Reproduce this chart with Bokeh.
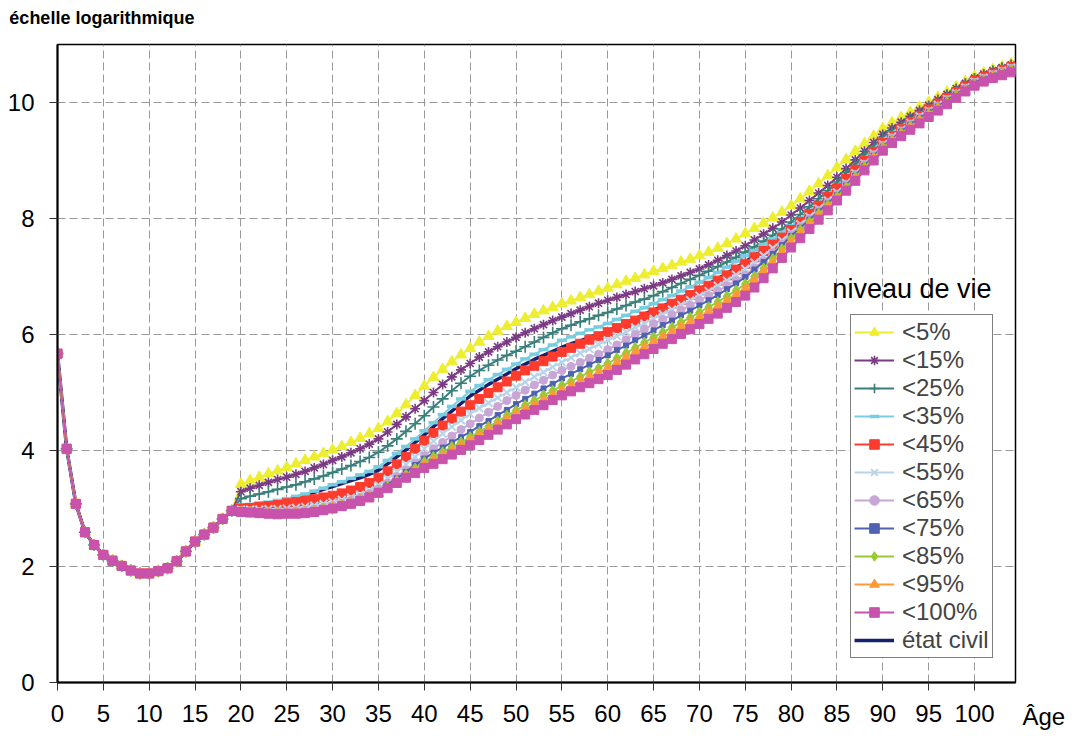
from bokeh.plotting import figure
from bokeh.models import Range1d, FixedTicker, Legend, LegendItem, Label, ColumnDataSource
from bokeh.embed import file_html
from bokeh.resources import INLINE

ages = list(range(0, 105))

# common values, ages 0-19
common_0_19 = [5.67, 4.03, 3.08, 2.59, 2.37, 2.20, 2.10, 2.01, 1.93, 1.88,
               1.88, 1.92, 1.97, 2.09, 2.26, 2.43, 2.55, 2.67, 2.82, 2.96]

# ages 20-104 per series
v_lt5 = [3.42, 3.48, 3.54, 3.60, 3.65, 3.71, 3.77, 3.83, 3.89, 3.95, 4.01,
         4.07, 4.14, 4.21, 4.29, 4.38, 4.50, 4.64, 4.79, 4.95, 5.11,
         5.26, 5.40, 5.53, 5.65, 5.76, 5.87, 5.97, 6.06, 6.14, 6.21,
         6.28, 6.35, 6.41, 6.47, 6.53, 6.58, 6.64, 6.69, 6.75, 6.80,
         6.86, 6.92, 6.97, 7.03, 7.09, 7.14, 7.19, 7.25, 7.30, 7.36,
         7.42, 7.49, 7.57, 7.65, 7.74, 7.83, 7.92, 8.01, 8.11, 8.22,
         8.34, 8.47, 8.60, 8.74, 8.88, 9.02, 9.16, 9.29, 9.42, 9.55,
         9.65, 9.74, 9.83, 9.92, 10.00, 10.09, 10.18, 10.27, 10.36, 10.45,
         10.51, 10.57, 10.62, 10.67]
v_lt15 = [3.29, 3.35, 3.40, 3.45, 3.50, 3.54, 3.59, 3.64, 3.70, 3.76, 3.83,
          3.89, 3.96, 4.03, 4.11, 4.20, 4.32, 4.45, 4.58, 4.72, 4.86,
          5.00, 5.14, 5.27, 5.39, 5.50, 5.61, 5.70, 5.79, 5.87, 5.95,
          6.03, 6.10, 6.17, 6.24, 6.30, 6.36, 6.42, 6.48, 6.54, 6.59,
          6.64, 6.69, 6.74, 6.79, 6.84, 6.89, 6.95, 7.01, 7.07, 7.13,
          7.20, 7.28, 7.36, 7.44, 7.53, 7.63, 7.73, 7.83, 7.94, 8.06,
          8.18, 8.31, 8.44, 8.57, 8.71, 8.86, 9.01, 9.16, 9.31, 9.45,
          9.56, 9.66, 9.76, 9.86, 9.95, 10.05, 10.14, 10.24, 10.33, 10.42,
          10.49, 10.55, 10.60, 10.65]
v_lt25 = [3.17, 3.21, 3.25, 3.29, 3.33, 3.37, 3.41, 3.46, 3.51, 3.56, 3.62,
          3.68, 3.74, 3.81, 3.88, 3.97, 4.08, 4.20, 4.33, 4.46, 4.60,
          4.75, 4.89, 5.03, 5.16, 5.28, 5.38, 5.47, 5.56, 5.64, 5.71,
          5.79, 5.87, 5.95, 6.03, 6.10, 6.16, 6.22, 6.27, 6.33, 6.38,
          6.44, 6.50, 6.56, 6.61, 6.67, 6.74, 6.81, 6.88, 6.95, 7.02,
          7.09, 7.17, 7.25, 7.33, 7.42, 7.51, 7.61, 7.71, 7.82, 7.94,
          8.07, 8.20, 8.34, 8.48, 8.63, 8.79, 8.94, 9.10, 9.25, 9.40,
          9.51, 9.62, 9.72, 9.82, 9.92, 10.02, 10.12, 10.21, 10.31, 10.40,
          10.47, 10.53, 10.59, 10.64]
v_lt35 = [3.06, 3.07, 3.09, 3.11, 3.14, 3.17, 3.21, 3.25, 3.30, 3.35, 3.41,
          3.46, 3.52, 3.58, 3.64, 3.72, 3.83, 3.95, 4.07, 4.20, 4.34,
          4.48, 4.62, 4.76, 4.89, 5.02, 5.12, 5.22, 5.31, 5.40, 5.49,
          5.58, 5.66, 5.74, 5.82, 5.90, 5.96, 6.02, 6.08, 6.13, 6.19,
          6.26, 6.33, 6.40, 6.46, 6.53, 6.60, 6.67, 6.75, 6.82, 6.90,
          6.98, 7.07, 7.16, 7.26, 7.36, 7.45, 7.55, 7.65, 7.76, 7.87,
          8.00, 8.13, 8.27, 8.41, 8.55, 8.71, 8.87, 9.04, 9.20, 9.36,
          9.48, 9.59, 9.70, 9.80, 9.90, 10.00, 10.10, 10.19, 10.29, 10.38,
          10.45, 10.51, 10.57, 10.62]
v_lt45 = [3.00, 3.01, 3.03, 3.04, 3.06, 3.09, 3.11, 3.13, 3.16, 3.19, 3.22,
          3.26, 3.31, 3.37, 3.44, 3.53, 3.64, 3.76, 3.89, 4.03, 4.17,
          4.30, 4.43, 4.55, 4.67, 4.78, 4.89, 4.99, 5.09, 5.19, 5.29,
          5.38, 5.46, 5.54, 5.62, 5.70, 5.77, 5.84, 5.91, 5.97, 6.04,
          6.11, 6.18, 6.24, 6.31, 6.38, 6.45, 6.53, 6.60, 6.68, 6.76,
          6.84, 6.93, 7.02, 7.12, 7.22, 7.33, 7.44, 7.55, 7.67, 7.80,
          7.94, 8.08, 8.22, 8.37, 8.52, 8.68, 8.84, 8.99, 9.15, 9.30,
          9.42, 9.54, 9.66, 9.77, 9.88, 9.98, 10.08, 10.18, 10.28, 10.37,
          10.44, 10.50, 10.56, 10.61]
v_lt55 = [2.98, 2.98, 2.98, 2.99, 2.99, 3.00, 3.01, 3.03, 3.05, 3.08, 3.11,
          3.15, 3.19, 3.24, 3.31, 3.40, 3.51, 3.63, 3.76, 3.89, 4.03,
          4.16, 4.29, 4.41, 4.52, 4.63, 4.73, 4.82, 4.91, 5.00, 5.09,
          5.18, 5.27, 5.35, 5.44, 5.52, 5.60, 5.68, 5.75, 5.83, 5.90,
          5.97, 6.04, 6.12, 6.19, 6.27, 6.35, 6.43, 6.51, 6.59, 6.67,
          6.75, 6.84, 6.93, 7.03, 7.13, 7.24, 7.36, 7.49, 7.62, 7.76,
          7.90, 8.03, 8.17, 8.31, 8.45, 8.61, 8.78, 8.95, 9.12, 9.28,
          9.41, 9.53, 9.65, 9.76, 9.86, 9.96, 10.06, 10.16, 10.26, 10.36,
          10.43, 10.49, 10.55, 10.60]
v_lt65 = [2.97, 2.96, 2.95, 2.95, 2.95, 2.95, 2.96, 2.97, 2.99, 3.02, 3.05,
          3.09, 3.14, 3.19, 3.26, 3.34, 3.44, 3.55, 3.66, 3.78, 3.91,
          4.03, 4.14, 4.25, 4.36, 4.46, 4.56, 4.66, 4.76, 4.86, 4.95,
          5.04, 5.13, 5.21, 5.30, 5.38, 5.45, 5.52, 5.59, 5.66, 5.74,
          5.82, 5.91, 6.00, 6.09, 6.18, 6.26, 6.34, 6.42, 6.50, 6.59,
          6.67, 6.75, 6.84, 6.93, 7.02, 7.14, 7.27, 7.41, 7.56, 7.72,
          7.86, 8.00, 8.14, 8.28, 8.42, 8.59, 8.76, 8.93, 9.10, 9.26,
          9.39, 9.51, 9.63, 9.74, 9.84, 9.94, 10.05, 10.15, 10.25, 10.35,
          10.42, 10.48, 10.54, 10.59]
v_lt75 = [2.96, 2.95, 2.94, 2.93, 2.93, 2.93, 2.94, 2.95, 2.97, 3.00, 3.03,
          3.07, 3.11, 3.16, 3.23, 3.30, 3.41, 3.52, 3.63, 3.75, 3.86,
          3.96, 4.05, 4.14, 4.23, 4.32, 4.42, 4.51, 4.61, 4.70, 4.80,
          4.89, 4.98, 5.07, 5.15, 5.24, 5.32, 5.40, 5.48, 5.56, 5.64,
          5.73, 5.81, 5.90, 5.98, 6.07, 6.16, 6.24, 6.33, 6.41, 6.50,
          6.59, 6.68, 6.78, 6.88, 6.99, 7.12, 7.25, 7.39, 7.54, 7.70,
          7.84, 7.98, 8.12, 8.26, 8.40, 8.57, 8.74, 8.91, 9.08, 9.24,
          9.37, 9.50, 9.62, 9.73, 9.83, 9.93, 10.04, 10.14, 10.24, 10.34,
          10.41, 10.47, 10.53, 10.58]
v_lt85 = [2.95, 2.94, 2.93, 2.92, 2.92, 2.92, 2.93, 2.94, 2.96, 2.99, 3.02,
          3.06, 3.10, 3.15, 3.21, 3.28, 3.38, 3.48, 3.58, 3.69, 3.80,
          3.89, 3.97, 4.06, 4.14, 4.23, 4.32, 4.41, 4.50, 4.60, 4.69,
          4.78, 4.86, 4.95, 5.03, 5.12, 5.19, 5.27, 5.35, 5.42, 5.50,
          5.59, 5.68, 5.77, 5.86, 5.95, 6.04, 6.12, 6.21, 6.29, 6.38,
          6.47, 6.56, 6.66, 6.76, 6.87, 7.00, 7.14, 7.30, 7.47, 7.65,
          7.80, 7.94, 8.08, 8.23, 8.37, 8.54, 8.71, 8.88, 9.05, 9.22,
          9.35, 9.47, 9.59, 9.70, 9.80, 9.91, 10.01, 10.12, 10.22, 10.32,
          10.39, 10.45, 10.51, 10.56]
v_lt95 = [2.94, 2.93, 2.92, 2.91, 2.91, 2.91, 2.92, 2.93, 2.95, 2.98, 3.01,
          3.05, 3.09, 3.14, 3.20, 3.26, 3.35, 3.45, 3.55, 3.65, 3.75,
          3.83, 3.91, 4.00, 4.08, 4.17, 4.26, 4.35, 4.44, 4.54, 4.63,
          4.71, 4.79, 4.87, 4.95, 5.03, 5.11, 5.19, 5.27, 5.34, 5.42,
          5.51, 5.60, 5.69, 5.78, 5.87, 5.96, 6.04, 6.13, 6.21, 6.30,
          6.39, 6.48, 6.58, 6.68, 6.79, 6.93, 7.08, 7.24, 7.41, 7.59,
          7.74, 7.89, 8.04, 8.19, 8.34, 8.51, 8.68, 8.85, 9.03, 9.20,
          9.33, 9.45, 9.57, 9.68, 9.78, 9.89, 9.99, 10.10, 10.20, 10.30,
          10.37, 10.43, 10.49, 10.54]
v_lt100 = [2.94, 2.93, 2.92, 2.91, 2.90, 2.91, 2.91, 2.92, 2.94, 2.97, 3.00,
           3.04, 3.08, 3.13, 3.19, 3.27, 3.35, 3.44, 3.53, 3.61, 3.70,
           3.77, 3.85, 3.93, 4.01, 4.09, 4.18, 4.27, 4.36, 4.45, 4.54,
           4.62, 4.70, 4.78, 4.87, 4.95, 5.02, 5.09, 5.16, 5.23, 5.30,
           5.39, 5.48, 5.57, 5.66, 5.75, 5.84, 5.92, 6.01, 6.09, 6.18,
           6.27, 6.36, 6.46, 6.56, 6.67, 6.81, 6.97, 7.14, 7.32, 7.50,
           7.66, 7.82, 7.98, 8.14, 8.31, 8.48, 8.65, 8.83, 9.00, 9.17,
           9.30, 9.42, 9.53, 9.64, 9.75, 9.86, 9.97, 10.08, 10.19, 10.29,
           10.36, 10.42, 10.47, 10.52]
v_etat_civil = [3.05, 3.06, 3.08, 3.10, 3.12, 3.15, 3.19, 3.23, 3.28, 3.33, 3.38,
                3.43, 3.48, 3.53, 3.59, 3.66, 3.77, 3.89, 4.01, 4.14, 4.27,
                4.41, 4.55, 4.68, 4.81, 4.94, 5.04, 5.14, 5.23, 5.32, 5.41,
                5.49, 5.57, 5.64, 5.71, 5.78, 5.84, 5.89, 5.95, 6.00, 6.06,
                6.13, 6.20, 6.27, 6.35, 6.42, 6.49, 6.56, 6.63, 6.71, 6.78,
                6.87, 6.96, 7.05, 7.15, 7.25, 7.36, 7.47, 7.58, 7.70, 7.82,
                7.96, 8.10, 8.24, 8.38, 8.52, 8.68, 8.84, 9.00, 9.16, 9.32,
                9.44, 9.56, 9.67, 9.78, 9.88, 9.98, 10.08, 10.18, 10.28, 10.38,
                10.44, 10.50, 10.56, 10.61]

series_labels = ["<5%", "<15%", "<25%", "<35%", "<45%", "<55%",
                 "<65%", "<75%", "<85%", "<95%", "<100%"]
series_values = [v_lt5, v_lt15, v_lt25, v_lt35, v_lt45, v_lt55,
                 v_lt65, v_lt75, v_lt85, v_lt95, v_lt100]
x_ticks = list(range(0, 101, 5))
y_ticks = [0, 2, 4, 6, 8, 10]

colors = ["#EEEE30", "#7B3A83", "#3B7F7A", "#78CEE0", "#FF3B2E", "#B8D4EA",
          "#C8A6D6", "#4F62B2", "#97CB36", "#FF9A36", "#C852AC"]
markers = [("triangle", 11, 1), ("asterisk", 10, 1.6), ("cross", 12, 1.6),
           ("dash", 10, 3.5), ("square", 9, 1), ("x", 11, 2),
           ("circle", 8, 1), ("square", 5, 1), ("diamond", 11, 1),
           ("triangle", 10, 1), ("square", 9, 1)]

FONT = "Liberation Sans"

p = figure(width=1072, height=736, output_backend="svg", toolbar_location=None,
           title=None,
           x_range=Range1d(0, 104.47), y_range=Range1d(0, 11),
           min_border_left=57, min_border_right=57, min_border_top=44,
           min_border_bottom=54, background_fill_color="white",
           border_fill_color="white")

p.outline_line_color = "black"
p.outline_line_width = 1.5

for ax in (p.xaxis[0], p.yaxis[0]):
    ax.axis_line_color = "black"
    ax.axis_line_width = 2
    ax.major_tick_line_color = "#333333"
    ax.major_tick_out = 8
    ax.major_tick_in = 0
    ax.minor_tick_out = 0
    ax.minor_tick_in = 0
    ax.major_label_text_color = "black"

p.xaxis.ticker = FixedTicker(ticks=x_ticks)
p.yaxis.ticker = FixedTicker(ticks=y_ticks)
p.xaxis.major_label_text_font = FONT
p.xaxis.major_label_text_font_size = "24px"
p.xaxis.major_label_standoff = 14
p.yaxis.major_label_text_font = FONT
p.yaxis.major_label_text_font_size = "24px"
p.yaxis.major_label_standoff = 15

for g in (p.xgrid[0], p.ygrid[0]):
    g.grid_line_color = "#999999"
    g.grid_line_dash = "8 4"
    g.grid_line_width = 1

legend_items = []

# état civil drawn first (below the markers)
etat_y = common_0_19 + v_etat_civil
src_ec = ColumnDataSource(dict(x=ages[:len(etat_y)], y=etat_y))
r_ec = p.line("x", "y", source=src_ec, line_color="#15206E", line_width=3.5)

for lab, vals, col, (mk, sz, lw) in zip(series_labels, series_values, colors, markers):
    ys = common_0_19 + vals
    src = ColumnDataSource(dict(x=ages[:len(ys)], y=ys))
    rl = p.line("x", "y", source=src, line_color=col, line_width=2)
    rm = p.scatter("x", "y", source=src, marker=mk, size=sz, fill_color=col,
                   line_color=col, line_width=lw)
    legend_items.append(LegendItem(label=lab, renderers=[rl, rm]))

legend_items.append(LegendItem(label="état civil", renderers=[r_ec]))

legend = Legend(items=legend_items, location=(793, 24),
                label_text_font=FONT, label_text_font_size="24px",
                label_height=24, glyph_height=24, glyph_width=40,
                spacing=0, padding=3, margin=0, label_standoff=8,
                border_line_color="black", border_line_width=1,
                background_fill_color="white", background_fill_alpha=1.0)
p.add_layout(legend, "center")

p.add_layout(Label(x=84.5, y=6.78, text="niveau de vie", text_font=FONT,
                   text_font_size="27px", text_baseline="middle",
                   text_align="left", text_color="black"))
# chart caption at the top-left, placed in the top side panel
p.add_layout(Label(x=-5.25, y=11.45, text="échelle logarithmique",
                   text_font=FONT, text_font_size="18px", text_font_style="bold",
                   text_baseline="middle", text_align="left",
                   text_color="black"), "above")
# axis name at the right end of the x axis, placed in the right side panel
p.add_layout(Label(x=7, y=-0.58, x_units="screen", y_units="data", text="Âge",
                   text_font=FONT, text_font_size="24px", text_baseline="middle",
                   text_align="left", text_color="black"), "right")

open("out.html", "w").write(file_html(p, INLINE))
